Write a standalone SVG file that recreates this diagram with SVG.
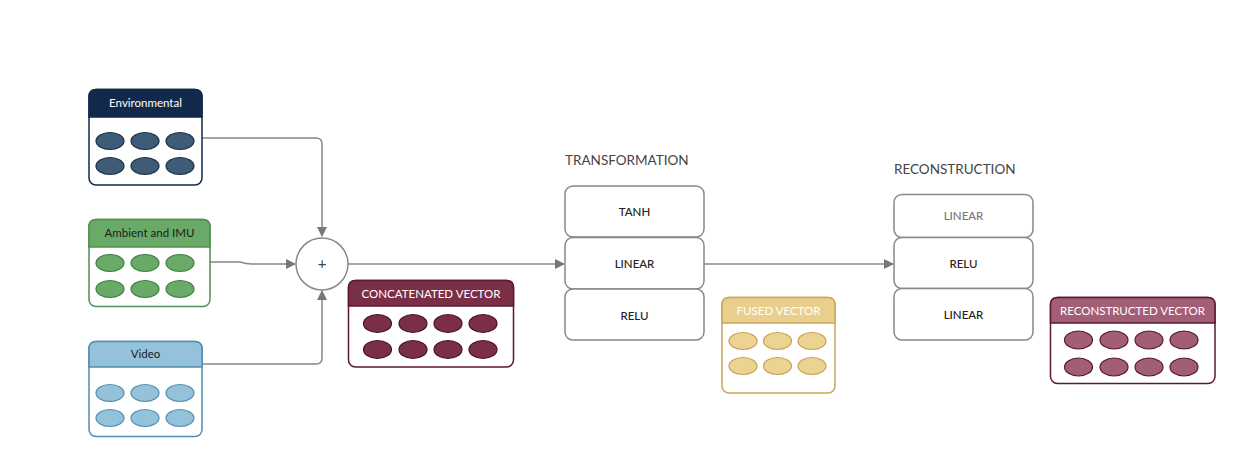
<svg xmlns="http://www.w3.org/2000/svg" width="1256" height="461" viewBox="0 0 1256 461">
<defs>
<marker id="arr" viewBox="0 0 10 10" refX="9" refY="5" markerWidth="10" markerHeight="10" markerUnits="userSpaceOnUse" orient="auto"><path d="M0,0 L10,5 L0,10 z" fill="#777"/></marker>
<style>
text{font-family:Lato,"Open Sans","Liberation Sans",sans-serif;}
.hdr{font-size:11.5px;text-anchor:middle;}
.lay{fill:#fff;stroke:#888;stroke-width:1.5;}
.lt{font-size:11.5px;text-anchor:middle;fill:#222;font-weight:500;}
.sec{font-size:13.5px;fill:#444;}
.conn{fill:none;stroke:#888;stroke-width:1.5;}
</style>
</defs>
<rect width="1256" height="461" fill="#fff"/>

<g id="connectors">
<path class="conn" d="M202,138 H316 Q322,138 322,144 V236" marker-end="url(#arr)"/>
<path class="conn" d="M210,262 H240 Q246,264 252,264 H295" marker-end="url(#arr)"/>
<path class="conn" d="M202,364 H316 Q322,364 322,358 V291" marker-end="url(#arr)"/>
<path class="conn" d="M348,264 H564" marker-end="url(#arr)"/>
<path class="conn" d="M704,264 H893" marker-end="url(#arr)"/>
</g>

<g id="environmental">
<rect x="89" y="89.5" width="113" height="95.5" rx="7" fill="#fff" stroke="#13294b" stroke-width="1.5"/>
<path d="M89,117 V96.5 Q89,89.5 96,89.5 H195 Q202,89.5 202,96.5 V117 Z" fill="#13294b" stroke="#13294b" stroke-width="1.5"/>
<text class="hdr" x="145.5" y="107" fill="#fff">Environmental</text>
<g fill="#3e5c75" stroke="#1a2f45" stroke-width="1.2">
<ellipse cx="110" cy="141" rx="14" ry="8.5"/><ellipse cx="145" cy="141" rx="14" ry="8.5"/><ellipse cx="180" cy="141" rx="14" ry="8.5"/>
<ellipse cx="110" cy="166" rx="14" ry="8.5"/><ellipse cx="145" cy="166" rx="14" ry="8.5"/><ellipse cx="180" cy="166" rx="14" ry="8.5"/>
</g>
</g>

<g id="ambient">
<rect x="89" y="219.5" width="121" height="87" rx="7" fill="#fff" stroke="#4f8f4f" stroke-width="1.5"/>
<path d="M89,247 V226.5 Q89,219.5 96,219.5 H203 Q210,219.5 210,226.5 V247 Z" fill="#6aaa68" stroke="#4f8f4f" stroke-width="1.5"/>
<text class="hdr" x="149.5" y="237" fill="#1a1a1a">Ambient and IMU</text>
<g fill="#6aaa68" stroke="#3f7f3f" stroke-width="1.2">
<ellipse cx="110" cy="263" rx="14" ry="8.5"/><ellipse cx="145" cy="263" rx="14" ry="8.5"/><ellipse cx="180" cy="263" rx="14" ry="8.5"/>
<ellipse cx="110" cy="289" rx="14" ry="8.5"/><ellipse cx="145" cy="289" rx="14" ry="8.5"/><ellipse cx="180" cy="289" rx="14" ry="8.5"/>
</g>
</g>

<g id="video">
<rect x="89" y="341.5" width="113" height="95" rx="7" fill="#fff" stroke="#4f8fae" stroke-width="1.5"/>
<path d="M89,367 V348.5 Q89,341.5 96,341.5 H195 Q202,341.5 202,348.5 V367 Z" fill="#93c2da" stroke="#4f8fae" stroke-width="1.5"/>
<text class="hdr" x="145.5" y="358" fill="#1a1a1a">Video</text>
<g fill="#93c2da" stroke="#4f8fae" stroke-width="1.2">
<ellipse cx="110" cy="393" rx="14" ry="8.5"/><ellipse cx="145" cy="393" rx="14" ry="8.5"/><ellipse cx="180" cy="393" rx="14" ry="8.5"/>
<ellipse cx="110" cy="418" rx="14" ry="8.5"/><ellipse cx="145" cy="418" rx="14" ry="8.5"/><ellipse cx="180" cy="418" rx="14" ry="8.5"/>
</g>
</g>

<g id="sum">
<circle cx="322" cy="264" r="26" fill="#fff" stroke="#888" stroke-width="1.5"/>
<text x="322" y="269" font-size="15" text-anchor="middle" fill="#444">+</text>
</g>

<g id="concatenated">
<rect x="348.5" y="280.5" width="165" height="86.5" rx="7" fill="#fff" stroke="#5a1a30" stroke-width="1.5"/>
<path d="M348.5,306 V287.5 Q348.5,280.5 355.5,280.5 H506.5 Q513.5,280.5 513.5,287.5 V306 Z" fill="#7b2f47" stroke="#5a1a30" stroke-width="1.5"/>
<text class="hdr" x="431" y="298" fill="#fff">CONCATENATED  VECTOR</text>
<g fill="#7b2f47" stroke="#4a1228" stroke-width="1.2">
<ellipse cx="377.5" cy="323.5" rx="14" ry="9"/><ellipse cx="413" cy="323.5" rx="14" ry="9"/><ellipse cx="448" cy="323.5" rx="14" ry="9"/><ellipse cx="483" cy="323.5" rx="14" ry="9"/>
<ellipse cx="377.5" cy="349.5" rx="14" ry="9"/><ellipse cx="413" cy="349.5" rx="14" ry="9"/><ellipse cx="448" cy="349.5" rx="14" ry="9"/><ellipse cx="483" cy="349.5" rx="14" ry="9"/>
</g>
</g>

<g id="transformation">
<text class="sec" x="565" y="165">TRANSFORMATION</text>
<rect class="lay" x="565" y="186" width="139" height="51" rx="8"/>
<text class="lt" x="634.5" y="216">TANH</text>
<rect class="lay" x="565" y="237.5" width="139" height="51.5" rx="8"/>
<text class="lt" x="634.5" y="268">LINEAR</text>
<rect class="lay" x="565" y="289" width="139" height="51" rx="8"/>
<text class="lt" x="634.5" y="320">RELU</text>
</g>

<g id="fused">
<rect x="722" y="297.5" width="113" height="95.5" rx="7" fill="#fff" stroke="#c8a85a" stroke-width="1.5"/>
<path d="M722,323 V304.5 Q722,297.5 729,297.5 H828 Q835,297.5 835,304.5 V323 Z" fill="#e8cf8e" stroke="#c8a85a" stroke-width="1.5"/>
<text class="hdr" x="778.5" y="315" fill="#fff">FUSED VECTOR</text>
<g fill="#edd391" stroke="#c4a251" stroke-width="1.2">
<ellipse cx="743" cy="341" rx="14" ry="8.5"/><ellipse cx="777.5" cy="341" rx="14" ry="8.5"/><ellipse cx="812" cy="341" rx="14" ry="8.5"/>
<ellipse cx="743" cy="366" rx="14" ry="8.5"/><ellipse cx="777.5" cy="366" rx="14" ry="8.5"/><ellipse cx="812" cy="366" rx="14" ry="8.5"/>
</g>
</g>

<g id="reconstruction">
<text class="sec" x="894" y="174">RECONSTRUCTION</text>
<rect class="lay" x="894" y="194.5" width="139" height="43" rx="8"/>
<text class="lt" x="963.5" y="220" style="fill:#777">LINEAR</text>
<rect class="lay" x="894" y="237.5" width="139" height="51" rx="8"/>
<text class="lt" x="963.5" y="268">RELU</text>
<rect class="lay" x="894" y="288.5" width="139" height="51.5" rx="8"/>
<text class="lt" x="963.5" y="319">LINEAR</text>
</g>

<g id="reconstructed">
<rect x="1050.5" y="297.5" width="164.5" height="86" rx="7" fill="#fff" stroke="#5a1a35" stroke-width="1.5"/>
<path d="M1050.5,323 V304.5 Q1050.5,297.5 1057.5,297.5 H1208 Q1215,297.5 1215,304.5 V323 Z" fill="#a25e77" stroke="#5a1a35" stroke-width="1.5"/>
<text class="hdr" x="1132.5" y="315" fill="#fff">RECONSTRUCTED  VECTOR</text>
<g fill="#a25e77" stroke="#5a1a35" stroke-width="1.2">
<ellipse cx="1078.5" cy="340" rx="14" ry="9"/><ellipse cx="1114" cy="340" rx="14" ry="9"/><ellipse cx="1149" cy="340" rx="14" ry="9"/><ellipse cx="1184" cy="340" rx="14" ry="9"/>
<ellipse cx="1078.5" cy="367" rx="14" ry="9"/><ellipse cx="1114" cy="367" rx="14" ry="9"/><ellipse cx="1149" cy="367" rx="14" ry="9"/><ellipse cx="1184" cy="367" rx="14" ry="9"/>
</g>
</g>
</svg>
